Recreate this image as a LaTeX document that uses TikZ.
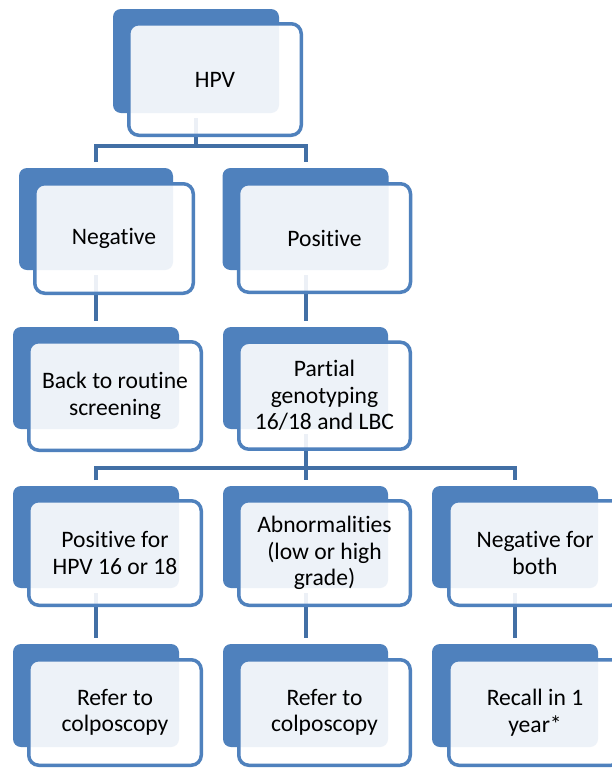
\documentclass[tikz,border=0pt]{standalone}
\usepackage{fontspec}
\setmainfont[Ligatures={NoCommon,NoRare,NoContextual}]{Carlito}
\definecolor{acc}{RGB}{79,129,189}
\definecolor{conncol}{RGB}{66,111,165}
\tikzset{
  backbox/.style={fill=acc, draw=none, rounded corners=8pt, inner sep=0pt, outer sep=0pt},
  frontbox/.style={draw=acc, line width=3.5pt, fill=white, fill opacity=0.9, text opacity=1,
    rounded corners=10pt, inner sep=0pt, outer sep=0pt, align=center,
    font=\fontsize{23.6}{26.5}\selectfont},
  conn/.style={draw=conncol, line width=4pt},
}
\begin{document}
\begin{tikzpicture}[x=1pt,y=-1pt]
\clip (0,0) rectangle (612,774);
\fill[white] (0,0) rectangle (612,774);
% back boxes
\node[backbox, minimum width=166pt, minimum height=104pt] (hpvb) at (196,61) {};
\node[backbox, minimum width=154pt, minimum height=102pt] (negb) at (96,219) {};
\node[backbox, minimum width=166pt, minimum height=102pt] (posb) at (305.5,219) {};
\node[backbox, minimum width=166pt, minimum height=102pt] (backb) at (96,378) {};
\node[backbox, minimum width=165pt, minimum height=102pt] (partb) at (305.5,378) {};
\node[backbox, minimum width=166pt, minimum height=102pt] (p1618b) at (96,537) {};
\node[backbox, minimum width=165pt, minimum height=102pt] (abnb) at (305.5,537) {};
\node[backbox, minimum width=166pt, minimum height=102pt] (negbothb) at (515,537) {};
\node[backbox, minimum width=166pt, minimum height=103pt] (ref1b) at (96,695.5) {};
\node[backbox, minimum width=165pt, minimum height=103pt] (ref2b) at (305.5,695.5) {};
\node[backbox, minimum width=166pt, minimum height=103pt] (recb) at (515,695.5) {};
% bar levels
\coordinate (bar1) at (0,146);
\coordinate (bar2) at (0,468);
% connectors
\draw[conn] ([yshift=-5pt]hpvb.south) -- (hpvb.south |- bar1);
\draw[conn, line join=miter] ([yshift=6pt]negb.north) -- (negb.north |- bar1) -- (posb.north |- bar1) -- ([yshift=6pt]posb.north);
\draw[conn] ([yshift=-5pt]negb.south) -- ([yshift=6pt]backb.north);
\draw[conn] ([yshift=-5pt]posb.south) -- ([yshift=6pt]partb.north);
\draw[conn] ([yshift=-5pt]partb.south) -- (partb.south |- bar2);
\draw[conn, line join=miter] ([yshift=6pt]p1618b.north) -- (p1618b.north |- bar2) -- (negbothb.north |- bar2) -- ([yshift=6pt]negbothb.north);
\draw[conn] (abnb.north |- bar2) -- ([yshift=6pt]abnb.north);
\draw[conn] ([yshift=-5pt]p1618b.south) -- ([yshift=6pt]ref1b.north);
\draw[conn] ([yshift=-5pt]abnb.south) -- ([yshift=6pt]ref2b.north);
\draw[conn] ([yshift=-5pt]negbothb.south) -- ([yshift=6pt]recb.north);
% front boxes with text
\node[frontbox, minimum width=172.5pt, minimum height=111.5pt] (hpv) at (215,79.5) {HPV};
\node[frontbox, minimum width=158.5pt, minimum height=109.5pt] (neg) at (114,238.5) {Negative};
\node[frontbox, minimum width=172pt, minimum height=108.5pt] (pos) at (324.5,238) {Positive};
\node[frontbox, minimum width=172.5pt, minimum height=108.5pt] (back) at (115,396) {Back to routine\\screening};
\node[frontbox, minimum width=171.5pt, minimum height=107pt] (part) at (324.5,395.7) {Partial\\genotyping\\16/18 and LBC};
\node[frontbox, minimum width=172.5pt, minimum height=104.5pt] (p1618) at (115,553) {Positive for\\HPV 16 or 18};
\node[frontbox, minimum width=171.5pt, minimum height=104.5pt] (abn) at (324.5,553) {Abnormalities\\(low or high\\grade)};
\node[frontbox, minimum width=172.5pt, minimum height=104.5pt] (negboth) at (535,553) {Negative for\\both};
\node[frontbox, minimum width=172.5pt, minimum height=105.5pt] (ref1) at (115,712.5) {Refer to\\colposcopy};
\node[frontbox, minimum width=171.5pt, minimum height=105.5pt] (ref2) at (324.5,712.5) {Refer to\\colposcopy};
\node[frontbox, minimum width=172.5pt, minimum height=105.5pt] (rec) at (535,712.5) {Recall in 1\\year*};
\end{tikzpicture}
\end{document}
